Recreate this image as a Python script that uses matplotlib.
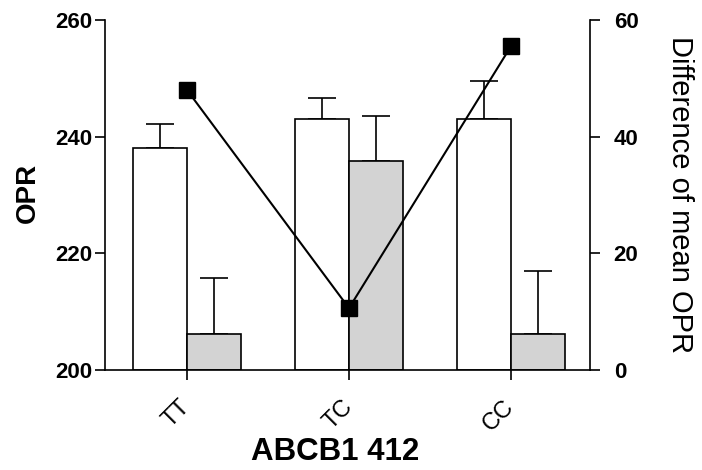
import numpy as np
import matplotlib
matplotlib.use("Agg")
import matplotlib.pyplot as plt

plt.rcParams['font.family'] = ['Liberation Sans', 'DejaVu Sans']

# ABCB1 412 genotype groups
genotypes = ['TT', 'TC', 'CC']
# OPR means and upper error (SEM) for the two groups
opr_white = [238.1, 243.0, 243.1]
opr_white_err = [4.0, 3.7, 6.4]
opr_grey = [206.1, 235.9, 206.1]
opr_grey_err = [9.6, 7.7, 10.9]
# difference of mean OPR (right axis)
diff_mean = [48.0, 10.6, 55.5]

base = 200
x = np.arange(len(genotypes))
w = 1 / 3

fig = plt.figure(figsize=(7.02, 4.70), dpi=100)
ax = fig.add_axes([0.1496, 0.2128, 0.6909, 0.7447])

lw = 1.2
ax.bar(x - w / 2, np.array(opr_white) - base, w, bottom=base, color='white',
       edgecolor='black', linewidth=lw, zorder=2)
ax.bar(x + w / 2, np.array(opr_grey) - base, w, bottom=base, color='#d3d3d3',
       edgecolor='black', linewidth=lw, zorder=2)
# upper-only error bars
ax.errorbar(x - w / 2, opr_white, yerr=[np.zeros(3), opr_white_err], fmt='none',
            ecolor='black', elinewidth=lw, capsize=10, capthick=lw, zorder=1)
ax.errorbar(x + w / 2, opr_grey, yerr=[np.zeros(3), opr_grey_err], fmt='none',
            ecolor='black', elinewidth=lw, capsize=10, capthick=lw, zorder=1)

ax.set_xlim(-0.506, 2.488)
ax.set_ylim(200, 260)
ax.set_yticks([200, 220, 240, 260])
ax.set_xticks(x)
ax.set_xticklabels(genotypes, rotation=45, fontsize=17, ha='right',
                   va='center', rotation_mode='anchor')
ax.tick_params(axis='x', pad=17)
ax.set_xlabel('ABCB1 412', fontsize=22.5, fontweight='bold',
              va='center', ha='center')
ax.xaxis.set_label_coords(0.474, -0.233)
ax.set_ylabel('OPR', fontsize=20, fontweight='bold', va='center',
              ha='center', rotation_mode='anchor')
ax.yaxis.set_label_coords(-0.159, 0.506)
for lab in ax.get_yticklabels():
    lab.set_fontweight('bold')
    lab.set_fontsize(16)
ax.tick_params(axis='both', direction='out', length=7, width=lw)
ax.tick_params(axis='y', pad=2)
ax.spines['top'].set_visible(False)
ax.spines['right'].set_visible(False)
for s in ['left', 'bottom']:
    ax.spines[s].set_linewidth(lw)

ax2 = ax.twinx()
ax2.plot(x, diff_mean, color='black', linewidth=1.5, marker='s',
         markersize=11, markerfacecolor='black')
ax2.set_ylim(0, 60)
ax2.set_yticks([0, 20, 40, 60])
for lab in ax2.get_yticklabels():
    lab.set_fontweight('bold')
    lab.set_fontsize(16)
ax2.tick_params(axis='y', direction='out', length=7, width=lw, pad=10)
ax2.set_ylabel('Difference of mean OPR', fontsize=21, rotation=270,
               va='center', ha='center', rotation_mode='anchor')
ax2.yaxis.set_label_coords(1.186, 0.5)
for s in ['top', 'left', 'bottom']:
    ax2.spines[s].set_visible(False)
ax2.spines['right'].set_linewidth(lw)

fig.savefig('out.png', dpi=100)
